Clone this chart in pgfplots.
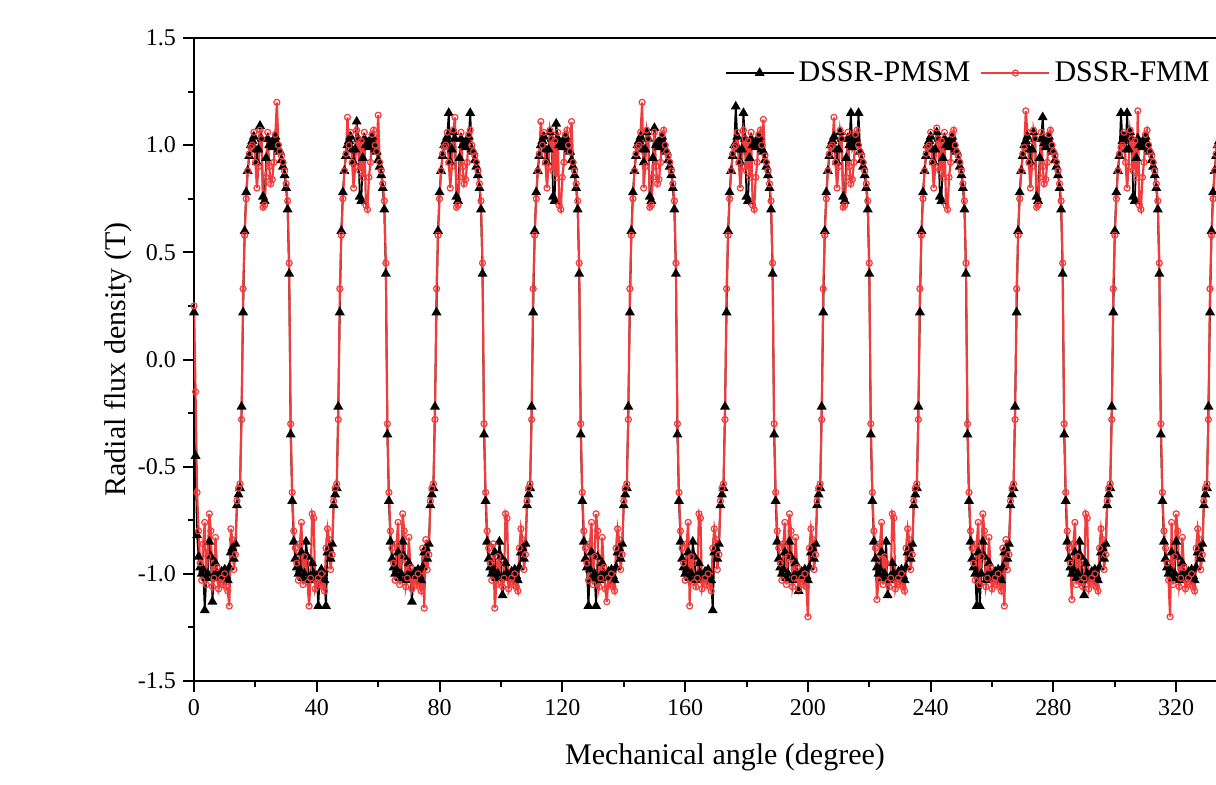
\documentclass[border=0pt]{standalone}
\usepackage{pgfplots}
\usepackage{pgfplotstable}
\pgfplotsset{compat=1.18}
\usepackage{fontspec}
\setmainfont{Liberation Serif}
\definecolor{fmmred}{RGB}{240,60,60}

\pgfplotstableread{
x b r
0.0 0.22 0.25
0.5 -0.45 -0.15
1.0 -0.82 -0.62
1.5 -0.92 -0.80
2.0 -0.97 -0.95
2.5 -1.00 -1.03
3.0 -0.98 -0.86
3.5 -1.17 -0.76
4.0 -1.02 -1.05
4.5 -1.00 -0.92
5.0 -0.85 -0.72
5.5 -0.92 -0.80
6.0 -1.13 -1.06
6.5 -1.01 -1.02
7.0 -0.95 -0.83
7.5 -1.00 -0.97
8.0 -1.02 -1.07
8.5 -1.01 -1.04
9.0 -0.99 -1.02
9.5 -1.00 -1.05
10.0 -0.98 -1.00
10.5 -1.01 -1.06
11.0 -1.03 -1.08
11.5 -0.97 -1.15
12.0 -0.90 -0.79
12.5 -0.88 -0.84
13.0 -0.93 -0.98
13.5 -0.86 -0.91
14.0 -0.68 -0.66
14.5 -0.63 -0.60
15.0 -0.60 -0.58
15.5 -0.22 -0.28
16.0 0.22 0.33
16.5 0.60 0.58
17.0 0.78 0.75
17.5 0.88 0.88
18.0 0.95 0.96
18.5 1.00 0.99
19.0 1.02 1.00
19.5 1.04 1.06
20.0 0.98 0.92
20.5 0.92 0.80
21.0 0.98 0.90
21.5 1.09 1.07
22.0 1.03 1.03
22.5 0.76 0.71
23.0 0.74 0.72
23.5 0.94 0.85
24.0 1.03 1.06
24.5 1.00 0.90
25.0 1.01 0.82
25.5 0.99 0.84
26.0 1.02 0.92
26.5 1.04 1.05
27.0 1.01 1.20
27.5 0.98 1.00
28.0 0.97 0.97
28.5 0.93 0.95
29.0 0.90 0.92
29.5 0.86 0.88
30.0 0.80 0.82
30.5 0.70 0.74
31.0 0.40 0.45
31.5 -0.35 -0.30
32.0 -0.66 -0.62
32.5 -0.85 -0.80
33.0 -0.93 -0.88
33.5 -0.97 -0.95
34.0 -1.00 -1.03
34.5 -0.98 -0.86
35.0 -0.90 -0.76
35.5 -1.02 -1.05
36.0 -1.00 -0.92
36.5 -0.85 -0.95
37.0 -0.92 -1.04
37.5 -1.03 -1.15
38.0 -1.01 -1.02
38.5 -0.95 -0.72
39.0 -1.00 -0.74
39.5 -1.02 -1.07
40.0 -1.01 -1.04
40.5 -1.15 -1.02
41.0 -1.00 -1.05
41.5 -0.98 -1.00
42.0 -1.01 -1.06
42.5 -1.03 -1.08
43.0 -1.15 -0.88
43.5 -0.90 -0.79
44.0 -0.88 -0.84
44.5 -0.93 -0.98
45.0 -0.86 -0.91
45.5 -0.68 -0.66
46.0 -0.63 -0.60
46.5 -0.60 -0.58
47.0 -0.22 -0.28
47.5 0.22 0.33
48.0 0.60 0.58
48.5 0.78 0.75
49.0 0.88 0.88
49.5 0.95 0.96
50.0 1.00 1.13
50.5 1.02 1.00
51.0 1.04 1.06
51.5 0.98 0.92
52.0 0.92 0.80
52.5 0.98 0.90
53.0 1.11 1.07
53.5 1.03 1.03
54.0 0.76 0.88
54.5 0.74 1.02
55.0 0.94 0.85
55.5 1.03 1.06
56.0 1.00 0.72
56.5 1.01 0.70
57.0 0.99 0.85
57.5 1.02 0.92
58.0 1.04 1.05
58.5 1.01 1.07
59.0 0.98 1.00
59.5 0.97 0.97
60.0 0.93 1.14
60.5 0.90 0.92
61.0 0.86 0.88
61.5 0.80 0.82
62.0 0.70 0.74
62.5 0.40 0.45
63.0 -0.35 -0.30
63.5 -0.66 -0.62
64.0 -0.85 -0.80
64.5 -0.93 -0.88
65.0 -0.97 -0.95
65.5 -1.00 -1.03
66.0 -0.98 -0.86
66.5 -0.90 -0.76
67.0 -1.02 -1.05
67.5 -1.00 -0.92
68.0 -0.85 -0.72
68.5 -0.92 -0.80
69.0 -1.03 -1.06
69.5 -1.01 -1.02
70.0 -0.95 -0.83
70.5 -1.00 -0.97
71.0 -1.13 -1.07
71.5 -1.01 -1.04
72.0 -0.99 -1.02
72.5 -1.00 -1.05
73.0 -0.98 -1.00
73.5 -1.01 -1.06
74.0 -1.03 -1.08
74.5 -0.97 -0.88
75.0 -0.90 -1.16
75.5 -0.88 -0.84
76.0 -0.93 -0.98
76.5 -0.86 -0.91
77.0 -0.68 -0.66
77.5 -0.63 -0.60
78.0 -0.60 -0.58
78.5 -0.22 -0.28
79.0 0.22 0.33
79.5 0.60 0.58
80.0 0.78 0.75
80.5 0.88 0.88
81.0 0.95 0.96
81.5 1.00 0.99
82.0 1.02 1.00
82.5 1.04 1.06
83.0 1.15 0.92
83.5 0.92 0.80
84.0 0.98 0.90
84.5 1.06 1.07
85.0 1.03 1.13
85.5 0.76 0.71
86.0 0.74 0.72
86.5 0.94 0.85
87.0 1.03 1.06
87.5 1.00 0.90
88.0 1.01 0.82
88.5 0.99 0.84
89.0 1.02 0.92
89.5 1.04 1.05
90.0 1.15 1.07
90.5 0.98 1.00
91.0 0.97 0.97
91.5 0.93 0.95
92.0 0.90 0.92
92.5 0.86 0.88
93.0 0.80 0.82
93.5 0.70 0.74
94.0 0.40 0.45
94.5 -0.35 -0.30
95.0 -0.66 -0.62
95.5 -0.85 -0.80
96.0 -0.93 -0.88
96.5 -0.97 -0.95
97.0 -1.00 -1.03
97.5 -0.98 -0.86
98.0 -0.90 -1.16
98.5 -1.02 -1.05
99.0 -1.00 -0.92
99.5 -0.85 -0.95
100.0 -0.92 -1.04
100.5 -1.10 -1.06
101.0 -1.01 -1.02
101.5 -0.95 -0.72
102.0 -1.00 -0.74
102.5 -1.02 -1.07
103.0 -1.01 -1.04
103.5 -0.99 -1.02
104.0 -1.00 -1.05
104.5 -0.98 -1.00
105.0 -1.01 -1.06
105.5 -1.03 -1.08
106.0 -0.97 -0.88
106.5 -0.90 -0.79
107.0 -0.88 -0.84
107.5 -0.93 -0.98
108.0 -0.86 -0.91
108.5 -0.68 -0.66
109.0 -0.63 -0.60
109.5 -0.60 -0.58
110.0 -0.22 -0.28
110.5 0.22 0.33
111.0 0.60 0.58
111.5 0.78 0.75
112.0 0.88 0.88
112.5 0.95 0.96
113.0 1.00 1.11
113.5 1.02 1.00
114.0 1.04 1.06
114.5 0.98 0.92
115.0 0.92 0.80
115.5 0.98 0.90
116.0 1.06 1.07
116.5 1.03 1.03
117.0 0.76 0.88
117.5 0.74 1.02
118.0 1.10 0.85
118.5 1.03 1.06
119.0 1.00 0.72
119.5 1.01 0.70
120.0 0.99 0.85
120.5 1.02 0.92
121.0 1.04 1.05
121.5 1.01 1.07
122.0 0.98 1.00
122.5 0.97 0.97
123.0 0.93 1.11
123.5 0.90 0.92
124.0 0.86 0.88
124.5 0.80 0.82
125.0 0.70 0.74
125.5 0.40 0.45
126.0 -0.35 -0.30
126.5 -0.66 -0.62
127.0 -0.85 -0.80
127.5 -0.93 -0.88
128.0 -0.97 -0.95
128.5 -1.15 -1.03
129.0 -0.98 -0.86
129.5 -0.90 -0.76
130.0 -1.02 -1.05
130.5 -1.00 -0.92
131.0 -1.15 -0.72
131.5 -0.92 -0.80
132.0 -1.03 -1.06
132.5 -1.01 -1.02
133.0 -0.95 -0.83
133.5 -1.00 -0.97
134.0 -1.02 -1.07
134.5 -1.01 -1.13
135.0 -0.99 -1.02
135.5 -1.00 -1.05
136.0 -0.98 -1.00
136.5 -1.01 -1.06
137.0 -1.03 -1.08
137.5 -0.97 -0.88
138.0 -0.90 -0.79
138.5 -0.88 -0.84
139.0 -0.93 -0.98
139.5 -0.86 -0.91
140.0 -0.68 -0.66
140.5 -0.63 -0.60
141.0 -0.60 -0.58
141.5 -0.22 -0.28
142.0 0.22 0.33
142.5 0.60 0.58
143.0 0.78 0.75
143.5 0.88 0.88
144.0 0.95 0.96
144.5 1.00 0.99
145.0 1.02 1.00
145.5 1.04 1.06
146.0 0.98 1.20
146.5 0.92 0.80
147.0 0.98 0.90
147.5 1.06 1.07
148.0 1.03 1.03
148.5 0.76 0.71
149.0 0.74 0.72
149.5 0.94 0.85
150.0 1.08 1.06
150.5 1.00 0.90
151.0 1.01 0.82
151.5 0.99 0.84
152.0 1.02 0.92
152.5 1.04 1.05
153.0 1.01 1.07
153.5 0.98 1.00
154.0 0.97 0.97
154.5 0.93 0.95
155.0 0.90 0.92
155.5 0.86 0.88
156.0 0.80 0.82
156.5 0.70 0.74
157.0 0.40 0.45
157.5 -0.35 -0.30
158.0 -0.66 -0.62
158.5 -0.85 -0.80
159.0 -0.93 -0.88
159.5 -0.97 -0.95
160.0 -1.00 -1.03
160.5 -0.98 -0.86
161.0 -0.90 -0.76
161.5 -1.02 -1.15
162.0 -1.00 -0.92
162.5 -0.85 -0.95
163.0 -0.92 -1.04
163.5 -1.03 -1.06
164.0 -1.01 -1.02
164.5 -0.95 -0.72
165.0 -1.00 -0.74
165.5 -1.02 -1.07
166.0 -1.01 -1.04
166.5 -0.99 -1.02
167.0 -1.00 -1.05
167.5 -0.98 -1.00
168.0 -1.01 -1.06
168.5 -1.03 -1.08
169.0 -1.17 -0.88
169.5 -0.90 -0.79
170.0 -0.88 -0.84
170.5 -0.93 -0.98
171.0 -0.86 -0.91
171.5 -0.68 -0.66
172.0 -0.63 -0.60
172.5 -0.60 -0.58
173.0 -0.22 -0.28
173.5 0.22 0.33
174.0 0.60 0.58
174.5 0.78 0.75
175.0 0.88 0.88
175.5 0.95 0.96
176.0 1.00 0.99
176.5 1.18 1.00
177.0 1.04 1.06
177.5 0.98 0.92
178.0 0.92 0.80
178.5 0.98 0.90
179.0 1.15 1.07
179.5 1.03 1.03
180.0 0.76 0.88
180.5 0.74 1.02
181.0 0.94 0.85
181.5 1.03 1.06
182.0 1.00 0.72
182.5 1.01 0.70
183.0 0.99 0.85
183.5 1.02 0.92
184.0 1.04 1.05
184.5 1.01 1.07
185.0 0.98 1.00
185.5 0.97 1.12
186.0 0.93 0.95
186.5 0.90 0.92
187.0 0.86 0.88
187.5 0.80 0.82
188.0 0.70 0.74
188.5 0.40 0.45
189.0 -0.35 -0.30
189.5 -0.66 -0.62
190.0 -0.85 -0.80
190.5 -0.93 -0.88
191.0 -0.97 -0.95
191.5 -1.00 -1.03
192.0 -0.98 -0.86
192.5 -0.90 -0.76
193.0 -1.02 -1.05
193.5 -1.00 -0.92
194.0 -0.85 -0.72
194.5 -0.92 -0.80
195.0 -1.03 -1.06
195.5 -1.01 -1.02
196.0 -0.95 -0.83
196.5 -1.00 -0.97
197.0 -1.08 -1.07
197.5 -1.01 -1.04
198.0 -0.99 -1.02
198.5 -1.00 -1.05
199.0 -0.98 -1.00
199.5 -1.01 -1.06
200.0 -1.03 -1.20
200.5 -0.97 -0.88
201.0 -0.90 -0.79
201.5 -0.88 -0.84
202.0 -0.93 -0.98
202.5 -0.86 -0.91
203.0 -0.68 -0.66
203.5 -0.63 -0.60
204.0 -0.60 -0.58
204.5 -0.22 -0.28
205.0 0.22 0.33
205.5 0.60 0.58
206.0 0.78 0.75
206.5 0.88 0.88
207.0 0.95 0.96
207.5 1.00 0.99
208.0 1.02 1.00
208.5 1.04 1.13
209.0 0.98 0.92
209.5 0.92 0.80
210.0 0.98 0.90
210.5 1.06 1.07
211.0 1.03 1.03
211.5 0.76 0.71
212.0 0.74 0.72
212.5 0.94 0.85
213.0 1.03 1.06
213.5 1.00 0.90
214.0 1.15 0.82
214.5 0.99 0.84
215.0 1.02 0.92
215.5 1.04 1.05
216.0 1.01 1.07
216.5 1.15 1.00
217.0 0.97 0.97
217.5 0.93 0.95
218.0 0.90 0.92
218.5 0.86 0.88
219.0 0.80 0.82
219.5 0.70 0.74
220.0 0.40 0.45
220.5 -0.35 -0.30
221.0 -0.66 -0.62
221.5 -0.85 -0.80
222.0 -0.93 -0.88
222.5 -0.97 -1.12
223.0 -1.00 -1.03
223.5 -0.98 -0.86
224.0 -0.90 -0.76
224.5 -1.02 -1.05
225.0 -1.00 -0.92
225.5 -0.85 -0.95
226.0 -1.10 -1.04
226.5 -1.03 -1.06
227.0 -1.01 -1.02
227.5 -0.95 -0.72
228.0 -1.00 -0.74
228.5 -1.02 -1.07
229.0 -1.01 -1.04
229.5 -0.99 -1.02
230.0 -1.00 -1.05
230.5 -0.98 -1.00
231.0 -1.01 -1.06
231.5 -1.03 -1.08
232.0 -0.97 -0.88
232.5 -0.90 -0.79
233.0 -0.88 -0.84
233.5 -0.93 -0.98
234.0 -0.86 -0.91
234.5 -0.68 -0.66
235.0 -0.63 -0.60
235.5 -0.60 -0.58
236.0 -0.22 -0.28
236.5 0.22 0.33
237.0 0.60 0.58
237.5 0.78 0.75
238.0 0.88 0.88
238.5 0.95 0.96
239.0 1.00 0.99
239.5 1.02 1.00
240.0 1.04 1.06
240.5 0.98 0.92
241.0 0.92 0.80
241.5 0.98 0.90
242.0 1.06 1.08
242.5 1.03 1.03
243.0 0.76 0.88
243.5 0.74 1.02
244.0 0.94 0.85
244.5 1.03 1.06
245.0 1.00 0.72
245.5 1.01 0.70
246.0 0.99 0.85
246.5 1.02 0.92
247.0 1.04 1.05
247.5 1.01 1.07
248.0 0.98 1.00
248.5 0.97 0.97
249.0 0.93 0.95
249.5 0.90 0.92
250.0 0.86 0.88
250.5 0.80 0.82
251.0 0.70 0.74
251.5 0.40 0.45
252.0 -0.35 -0.30
252.5 -0.66 -0.62
253.0 -0.85 -0.80
253.5 -0.93 -0.88
254.0 -0.97 -0.95
254.5 -1.00 -1.03
255.0 -1.15 -0.86
255.5 -0.90 -0.76
256.0 -1.15 -1.05
256.5 -1.00 -0.92
257.0 -0.85 -0.72
257.5 -0.92 -0.80
258.0 -1.03 -1.06
258.5 -1.01 -1.02
259.0 -0.95 -0.83
259.5 -1.00 -0.97
260.0 -1.02 -1.07
260.5 -1.01 -1.04
261.0 -0.99 -1.02
261.5 -1.00 -1.05
262.0 -0.98 -1.00
262.5 -1.01 -1.06
263.0 -1.03 -1.08
263.5 -0.97 -0.88
264.0 -0.90 -1.15
264.5 -0.88 -0.84
265.0 -0.93 -0.98
265.5 -0.86 -0.91
266.0 -0.68 -0.66
266.5 -0.63 -0.60
267.0 -0.60 -0.58
267.5 -0.22 -0.28
268.0 0.22 0.33
268.5 0.60 0.58
269.0 0.78 0.75
269.5 0.88 0.88
270.0 0.95 0.96
270.5 1.00 0.99
271.0 1.02 1.16
271.5 1.04 1.06
272.0 0.98 0.92
272.5 0.92 0.80
273.0 0.98 0.90
273.5 1.06 1.07
274.0 1.03 1.03
274.5 0.76 0.71
275.0 0.74 0.72
275.5 0.94 0.85
276.0 1.03 1.06
276.5 1.13 0.90
277.0 1.01 0.82
277.5 0.99 0.84
278.0 1.02 0.92
278.5 1.04 1.05
279.0 1.01 1.07
279.5 0.98 1.00
280.0 0.97 0.97
280.5 0.93 0.95
281.0 0.90 0.92
281.5 0.86 0.88
282.0 0.80 0.82
282.5 0.70 0.74
283.0 0.40 0.45
283.5 -0.35 -0.30
284.0 -0.66 -0.62
284.5 -0.85 -0.80
285.0 -0.93 -0.88
285.5 -0.97 -0.95
286.0 -1.00 -1.12
286.5 -0.98 -0.86
287.0 -0.90 -0.76
287.5 -1.02 -1.05
288.0 -1.00 -0.92
288.5 -0.85 -0.95
289.0 -0.92 -1.04
289.5 -1.03 -1.06
290.0 -1.10 -1.02
290.5 -0.95 -0.72
291.0 -1.00 -0.74
291.5 -1.02 -1.07
292.0 -1.01 -1.04
292.5 -0.99 -1.02
293.0 -1.00 -1.05
293.5 -0.98 -1.00
294.0 -1.01 -1.06
294.5 -1.03 -1.08
295.0 -0.97 -0.88
295.5 -0.90 -0.79
296.0 -0.88 -0.84
296.5 -0.93 -0.98
297.0 -0.86 -0.91
297.5 -0.68 -0.66
298.0 -0.63 -0.60
298.5 -0.60 -0.58
299.0 -0.22 -0.28
299.5 0.22 0.33
300.0 0.60 0.58
300.5 0.78 0.75
301.0 0.88 0.88
301.5 0.95 0.96
302.0 1.15 0.99
302.5 1.02 1.00
303.0 1.04 1.06
303.5 0.98 0.92
304.0 1.15 0.80
304.5 0.98 0.90
305.0 1.06 1.07
305.5 1.03 1.03
306.0 0.76 0.88
306.5 0.74 1.02
307.0 0.94 0.85
307.5 1.03 1.16
308.0 1.00 0.72
308.5 1.01 0.70
309.0 0.99 0.85
309.5 1.02 0.92
310.0 1.04 1.05
310.5 1.01 1.07
311.0 0.98 1.00
311.5 0.97 0.97
312.0 0.93 0.95
312.5 0.90 0.92
313.0 0.86 0.88
313.5 0.80 0.82
314.0 0.70 0.74
314.5 0.40 0.45
315.0 -0.35 -0.30
315.5 -0.66 -0.62
316.0 -0.85 -0.80
316.5 -0.93 -0.88
317.0 -0.97 -0.95
317.5 -1.00 -1.03
318.0 -0.98 -1.20
318.5 -0.90 -0.76
319.0 -1.02 -1.05
319.5 -1.00 -0.92
320.0 -0.85 -0.72
320.5 -0.92 -0.80
321.0 -1.03 -1.06
321.5 -1.01 -1.02
322.0 -0.95 -0.83
322.5 -1.00 -0.97
323.0 -1.02 -1.07
323.5 -1.01 -1.04
324.0 -0.99 -1.02
324.5 -1.00 -1.05
325.0 -0.98 -1.00
325.5 -1.01 -1.06
326.0 -1.03 -1.08
326.5 -0.97 -0.88
327.0 -0.90 -0.79
327.5 -0.88 -0.84
328.0 -0.93 -0.98
328.5 -0.86 -0.91
329.0 -0.68 -0.66
329.5 -0.63 -0.60
330.0 -0.60 -0.58
330.5 -0.22 -0.28
331.0 0.22 0.33
331.5 0.60 0.58
332.0 0.78 0.75
332.5 0.88 0.88
333.0 0.95 0.96
333.5 1.00 0.99
334.0 1.02 1.00
334.5 1.04 1.06
}\fluxdata

\begin{document}
\begin{tikzpicture}
\begin{axis}[
  at={(0,0)}, anchor=south west,
  scale only axis,
  width=552.5pt, height=321.5pt,
  xmin=0, xmax=360, ymin=-1.5, ymax=1.5,
  xtick={0,40,80,120,160,200,240,280,320},
  xticklabels={0,40,80,120,160,200,240,280,320},
  ytick={-1.5,-1,-0.5,0,0.5,1,1.5},
  yticklabels={-1.5,-1.0,-0.5,0.0,0.5,1.0,1.5},
  minor x tick num=1, minor y tick num=1,
  xtick pos=left, ytick pos=left,
  tick align=outside,
  major tick length=5.5pt, minor tick length=3pt,
  every tick/.style={black, line width=1pt},
  axis line style={line width=1pt},
  ticklabel style={font=\fontsize{12}{14}\selectfont},
  xlabel={Mechanical angle (degree)},
  ylabel={Radial flux density (T)},
  label style={font=\fontsize{15}{18}\selectfont},
  xlabel style={at={(axis description cs:0,0)}, anchor=center, xshift=265.5pt, yshift=-38pt},
  ylabel style={at={(axis description cs:0,0.5)}, anchor=center, rotate=0, yshift=38pt},
  legend columns=-1,
  legend style={at={(axis description cs:0.9231,0.9456)}, anchor=east, draw=none, fill=none,
    font=\fontsize{15}{18}\selectfont, inner sep=0pt,
    /tikz/every even column/.append style={column sep=3pt}},
  legend image code/.code={\draw[mark repeat=2,mark phase=2,#1] plot coordinates {(0pt,0pt) (17pt,0pt) (34pt,0pt)};},
]
\addplot[black, line width=0.9pt, mark=triangle*, mark size=2pt, mark options={solid, fill=black}] table[x=x, y=b] {\fluxdata};
\addlegendentry{DSSR-PMSM}
\addplot[fmmred, line width=1.1pt, mark=o, mark size=1.5pt, mark options={solid, fill=white, draw=fmmred, line width=0.6pt}] table[x=x, y=r] {\fluxdata};
\addlegendentry{DSSR-FMM}
\end{axis}
\pgfresetboundingbox
\useasboundingbox (-97pt,-51.5pt) rectangle (511pt,340.5pt);
\end{tikzpicture}
\end{document}
